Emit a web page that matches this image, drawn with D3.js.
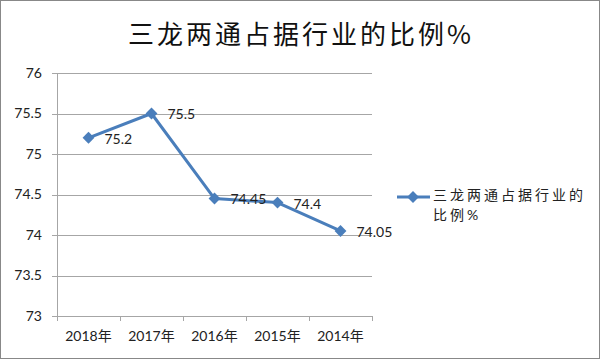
<!DOCTYPE html>
<html><head><meta charset="utf-8">
<script src="https://cdn.jsdelivr.net/npm/d3@7"></script>
<style>body{margin:0;background:#fff}svg{display:block}</style>
</head><body>
<svg id="c" width="600" height="359"></svg>
<script>
const title = "三龙两通占据行业的比例%";
const seriesName = "三龙两通占据行业的比例%";
const categories = ["2018年","2017年","2016年","2015年","2014年"];
const values = [75.2, 75.5, 74.45, 74.4, 74.05];
const yTicks = [73, 73.5, 74, 74.5, 75, 75.5, 76];

(function(){
const svg = d3.select("#c");
const font = "Lato, 'Noto Sans CJK SC', sans-serif";
const color = "#4A7EBB";

svg.append("rect").attr("x",0.5).attr("y",0.5).attr("width",599).attr("height",358)
  .attr("fill","#fff").attr("stroke","#888");

svg.append("text").attr("x",301).attr("y",44).attr("text-anchor","middle")
  .attr("font-family","'Noto Sans CJK SC', sans-serif").attr("font-size",26)
  .attr("font-weight",400).attr("letter-spacing",3)
  .attr("fill","#111").text(title);

const pl = 57, pr = 372, pt = 73, pb = 316;
const x = d3.scaleBand().domain(categories).range([pl, pr]);
const y = d3.scaleLinear().domain([73, 76]).range([pb, pt]);

svg.append("g").selectAll("line").data(yTicks).join("line")
  .attr("x1", pl - 5).attr("x2", pr)
  .attr("y1", d => Math.round(y(d)) + 0.5).attr("y2", d => Math.round(y(d)) + 0.5)
  .attr("stroke", "#a6a6a6").attr("stroke-width", 1);

svg.append("line").attr("x1", pl + 0.5).attr("x2", pl + 0.5)
  .attr("y1", pt).attr("y2", pb).attr("stroke", "#a6a6a6");

const xt = categories.map(c => x(c)).concat([pr]);
svg.append("g").selectAll("line").data(xt).join("line")
  .attr("x1", d => Math.round(d) + 0.5).attr("x2", d => Math.round(d) + 0.5)
  .attr("y1", pb).attr("y2", pb + 5).attr("stroke", "#a6a6a6");

svg.append("g").selectAll("text").data(yTicks).join("text")
  .attr("x", 42).attr("y", d => y(d)).attr("dy", "0.35em").attr("text-anchor", "end")
  .attr("font-family", font).attr("font-size", 14).attr("fill", "#222")
  .text(d => d);

svg.append("g").selectAll("text").data(categories).join("text")
  .attr("x", d => x(d) + x.bandwidth() / 2).attr("y", 341).attr("text-anchor", "middle")
  .attr("font-family", font).attr("font-size", 14).attr("fill", "#222")
  .text(d => d);

const pts = categories.map((c, i) => [x(c) + x.bandwidth() / 2, y(values[i])]);
svg.append("path").attr("d", d3.line()(pts)).attr("fill", "none")
  .attr("stroke", color).attr("stroke-width", 3).attr("stroke-linejoin", "round");

const diamond = d3.symbol().type(d3.symbolDiamond2).size(90);
svg.append("g").selectAll("path").data(pts).join("path")
  .attr("transform", d => `translate(${d[0]},${d[1]})`)
  .attr("d", diamond).attr("fill", color);

svg.append("g").selectAll("text").data(pts).join("text")
  .attr("x", d => d[0] + 16).attr("y", d => d[1] + 1).attr("dy", "0.35em")
  .attr("font-family", font).attr("font-size", 14).attr("fill", "#222")
  .text((d, i) => values[i]);

svg.append("line").attr("x1", 397).attr("x2", 430).attr("y1", 197).attr("y2", 197)
  .attr("stroke", color).attr("stroke-width", 3);
svg.append("path").attr("transform", "translate(413,197)").attr("d", diamond).attr("fill", color);
const lt = svg.append("text").attr("font-family", font).attr("font-size", 14)
  .attr("letter-spacing", 3).attr("fill", "#222");
lt.append("tspan").attr("x", 433).attr("y", 200).text(seriesName.slice(0, 9));
lt.append("tspan").attr("x", 433).attr("y", 220).text(seriesName.slice(9));
})();
</script>
</body></html>
